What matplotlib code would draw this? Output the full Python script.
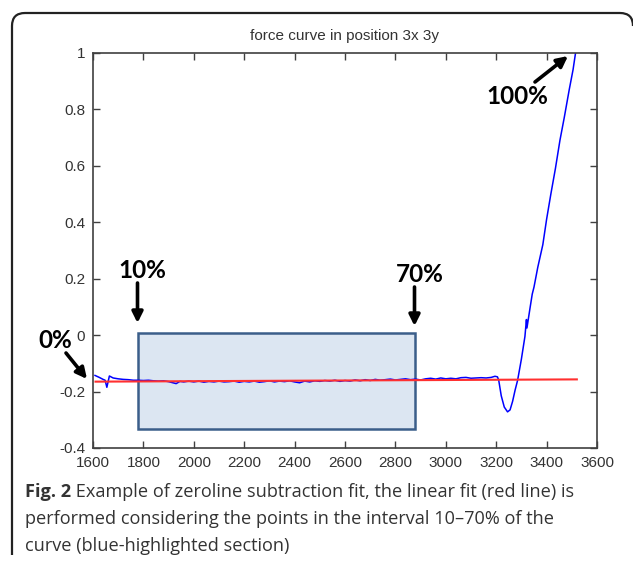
import matplotlib
matplotlib.use("Agg")
import matplotlib.pyplot as plt
from matplotlib.patches import Rectangle, FancyArrowPatch, PathPatch
from matplotlib.path import Path

# ---- data ----
curve_x = [1608, 1625, 1640, 1648, 1655, 1660, 1665, 1680, 1700, 1720, 1740, 1760, 1780,
           1800, 1820, 1840, 1860, 1880, 1900, 1930, 1945, 1960, 1980, 2000, 2020, 2040,
           2060, 2080, 2100, 2120, 2140, 2160, 2180, 2200, 2220, 2240, 2260, 2280, 2300,
           2320, 2340, 2360, 2380, 2400, 2420, 2440, 2460, 2480, 2500, 2520, 2540, 2560,
           2580, 2600, 2620, 2640, 2660, 2680, 2700, 2720, 2740, 2760, 2780, 2800, 2820,
           2840, 2860, 2880, 2900, 2920, 2940, 2960, 2980, 3000, 3020, 3040, 3060, 3080,
           3100, 3120, 3140, 3160, 3180, 3195, 3205, 3210, 3220, 3232, 3245, 3255, 3265,
           3275, 3285, 3300, 3314, 3320, 3322, 3335, 3343, 3350, 3365, 3385, 3400, 3417,
           3435, 3453, 3470, 3490, 3505, 3515]
curve_y = [-0.143, -0.150, -0.157, -0.160, -0.185, -0.165, -0.145, -0.152, -0.155, -0.157,
           -0.158, -0.160, -0.160, -0.161, -0.160, -0.162, -0.163, -0.162, -0.165, -0.172,
           -0.164, -0.166, -0.163, -0.166, -0.163, -0.167, -0.164, -0.166, -0.163, -0.166,
           -0.165, -0.163, -0.167, -0.164, -0.166, -0.163, -0.167, -0.165, -0.162, -0.166,
           -0.163, -0.165, -0.162, -0.166, -0.169, -0.163, -0.166, -0.162, -0.164, -0.161,
           -0.163, -0.160, -0.164, -0.161, -0.163, -0.159, -0.162, -0.158, -0.161, -0.157,
           -0.160, -0.158, -0.156, -0.159, -0.157, -0.155, -0.158, -0.156, -0.159, -0.155,
           -0.153, -0.156, -0.152, -0.155, -0.153, -0.155, -0.151, -0.150, -0.153, -0.152,
           -0.151, -0.152, -0.150, -0.146, -0.148, -0.160, -0.215, -0.255, -0.272, -0.265,
           -0.235, -0.195, -0.160, -0.085, -0.005, 0.055, 0.025, 0.100, 0.145, 0.170,
           0.240, 0.320, 0.410, 0.500, 0.590, 0.690, 0.770, 0.870, 0.940, 1.000]
fit_x = [1610, 3520]
fit_y = [-0.165, -0.157]
interval_x = [1777, 2878]          # 10% .. 70%
interval_y = [-0.332, 0.008]
x_ticks = [1600, 1800, 2000, 2200, 2400, 2600, 2800, 3000, 3200, 3400, 3600]
y_ticks = [-0.4, -0.2, 0, 0.2, 0.4, 0.6, 0.8, 1]
y_labels = ["-0.4", "-0.2", "0", "0.2", "0.4", "0.6", "0.8", "1"]
title = "force curve in position 3x 3y"
caption_bold = "Fig. 2"
caption_lines = [" Example of zeroline subtraction fit, the linear fit (red line) is",
                 "performed considering the points in the interval 10\u201370% of the",
                 "curve (blue-highlighted section)"]

W, H = 633, 563
fig = plt.figure(figsize=(W / 100, H / 100), dpi=100)
fig.patch.set_facecolor("white")

def fx(px):
    return px / W

def fy(py):
    return 1 - py / H

ax = fig.add_axes([fx(93), fy(448), fx(597) - fx(93), fy(52.7) - fy(448)])
ax.set_xlim(1600, 3600)
ax.set_ylim(-0.4, 1)

ax.add_patch(Rectangle((interval_x[0], interval_y[0]), interval_x[1] - interval_x[0],
                       interval_y[1] - interval_y[0], facecolor="#dce6f2",
                       edgecolor="#3b5e8a", linewidth=1.8, zorder=1))
ax.plot(curve_x, curve_y, color="#0000ff", lw=1.1, zorder=2)
ax.plot(fit_x, fit_y, color="#ff3030", lw=1.5, zorder=3)

ax.set_xticks(x_ticks)
ax.set_yticks(y_ticks)
ax.set_yticklabels(y_labels)
ax.tick_params(direction="in", length=5, width=1, top=True, right=True,
               labelsize=11, labelcolor="#333333", color="#404040", pad=5.5)
for lab in ax.get_xticklabels() + ax.get_yticklabels():
    lab.set_family("Liberation Sans")
for s in ax.spines.values():
    s.set_color("#404040")
    s.set_linewidth(1.2)

fig.text(fx(345), fy(36), title, ha="center", va="center", fontsize=11,
         family="Liberation Sans", color="#333333")

# annotations
lab_kw = dict(ha="center", va="center", fontsize=17.5, fontweight="bold",
              family="Lato", color="black")
fig.text(fx(142), fy(271), "10%", **lab_kw)
fig.text(fx(420), fy(275), "70%", **lab_kw)
fig.text(fx(55), fy(341), "0%", **lab_kw)
fig.text(fx(517), fy(96), "100%", **lab_kw)

def arrow(x0, y0, x1, y1):
    fig.add_artist(FancyArrowPatch((fx(x0), fy(y0)), (fx(x1), fy(y1)),
                                   transform=fig.transFigure, arrowstyle="-|>",
                                   mutation_scale=16, lw=2.6, color="black",
                                   shrinkA=0, shrinkB=0))

arrow(137.5, 283, 137.5, 323)
arrow(414.5, 287, 414.5, 326)
arrow(66, 353, 87, 379)
arrow(535, 82, 568, 56)

# frame
verts = [(12, 555), (12, 26), (12, 13), (25, 13), (620, 13), (633, 13), (633, 26)]
codes = [Path.MOVETO, Path.LINETO, Path.CURVE3, Path.CURVE3, Path.LINETO,
         Path.CURVE3, Path.CURVE3]
path = Path([(fx(a), fy(b)) for a, b in verts], codes)
fig.add_artist(PathPatch(path, transform=fig.transFigure, fill=False,
                         edgecolor="#222222", lw=1.6))

# caption: fit first line to the reference width (~552 px)
cap_family = "Open Sans"
size = 14.0
fig.canvas.draw()
r = fig.canvas.get_renderer()
tb = fig.text(0, 0, caption_bold, fontsize=size, fontweight="bold", family=cap_family)
tr = fig.text(0, 0, caption_lines[0], fontsize=size, family=cap_family)
wtot = tb.get_window_extent(r).width + tr.get_window_extent(r).width
tb.remove()
tr.remove()
size = size * 552.0 / wtot

cap_kw = dict(fontsize=size, family=cap_family, color="#333333", va="center")
t = fig.text(fx(25), fy(492), caption_bold, fontweight="bold", **cap_kw)
fig.canvas.draw()
bb = t.get_window_extent()
fig.text(bb.x1 / W, fy(492), caption_lines[0], **cap_kw)
fig.text(fx(25), fy(519), caption_lines[1], **cap_kw)
fig.text(fx(25), fy(546), caption_lines[2], **cap_kw)

fig.savefig("out.png", dpi=100)
